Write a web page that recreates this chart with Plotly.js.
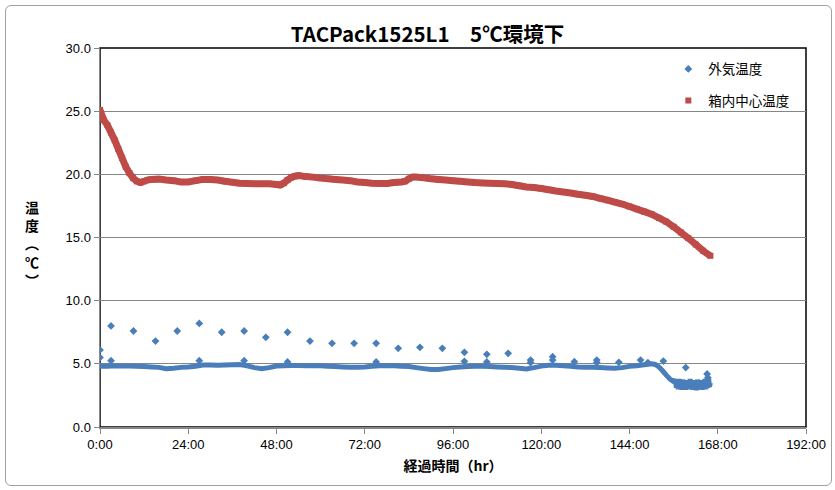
<!DOCTYPE html>
<html>
<head>
<meta charset="utf-8">
<script src="https://cdn.plot.ly/plotly-3.0.1.min.js"></script>
<style>
  html, body { margin: 0; padding: 0; background: #fff; }
  #wrap { position: relative; width: 835px; height: 490px; }
  #chart { width: 835px; height: 490px; }
  #frame { position: absolute; left: 5px; top: 5px; width: 825px; height: 479px;
           border: 1.5px solid #a0a0a0; border-radius: 6px; pointer-events: none; }
</style>
</head>
<body>
<div id="wrap"><div id="chart"></div><div id="frame"></div></div>
<script>
// ---- data (hours elapsed, temperature °C) ----
const xTickVals = [0, 24, 48, 72, 96, 120, 144, 168, 192];
const xTickText = ['0:00', '24:00', '48:00', '72:00', '96:00', '120:00', '144:00', '168:00', '192:00'];

// 箱内中心温度 (inner centre temperature)
const innerHours = [0,1,2,3,4,5,6,7,8,9,10,11,12,13,14,16,18,20,22,24,26,28,30,32,34,36,38,40,42,44,46,48,49,50,51,52,53,54,56,58,60,62,64,66,68,70,72,74,76,78,80,82,83,84,85,86,88,90,92,94,96,98,100,102,104,106,108,110,112,114,116,118,120,122,124,126,128,130,132,134,136,138,140,142,144,146,148,150,152,154,156,158,160,162,164,166];
const innerTemp = [25.1,24.3,23.9,23.3,22.7,22.0,21.3,20.6,20.1,19.7,19.45,19.35,19.45,19.55,19.6,19.62,19.55,19.5,19.4,19.4,19.5,19.6,19.6,19.55,19.45,19.38,19.3,19.28,19.25,19.25,19.25,19.2,19.15,19.3,19.55,19.75,19.85,19.9,19.82,19.78,19.7,19.65,19.6,19.55,19.5,19.4,19.35,19.3,19.28,19.28,19.35,19.4,19.45,19.65,19.78,19.78,19.72,19.65,19.6,19.55,19.5,19.45,19.4,19.35,19.32,19.3,19.28,19.25,19.2,19.1,19.0,18.95,18.88,18.78,18.68,18.6,18.52,18.42,18.35,18.25,18.1,17.95,17.8,17.65,17.45,17.25,17.05,16.85,16.55,16.25,15.85,15.4,14.95,14.45,13.95,13.55];

// 外気温度 (ambient) – main band
const ambientHours = [0,2,4,6,8,10,12,14,16,18,20,22,24,26,28,30,32,34,36,38,40,42,44,46,48,50,52,54,56,58,60,62,64,66,68,70,72,74,76,78,80,82,84,86,88,90,92,94,96,98,100,102,104,106,108,110,112,114,116,118,120,122,124,126,128,130,132,134,136,138,140,142,144,146,148,150,151,152,153,154,155,156,
  156.5,156.75,157,157.25,157.5,157.75,158,158.25,158.5,158.75,159,159.25,159.5,159.75,160,160.25,160.5,160.75,161,161.25,161.5,161.75,162,162.25,162.5,162.75,163,163.25,163.5,163.75,164,164.25,164.5,164.75,165,165.25,165.5,165.75,166];
const ambientTemp = [4.8,4.8,4.85,4.82,4.82,4.8,4.78,4.75,4.72,4.62,4.65,4.72,4.75,4.8,4.9,4.9,4.88,4.9,4.92,4.95,4.85,4.7,4.62,4.7,4.82,4.85,4.87,4.87,4.85,4.85,4.85,4.8,4.78,4.75,4.72,4.72,4.75,4.8,4.85,4.87,4.85,4.8,4.78,4.7,4.62,4.55,4.55,4.62,4.7,4.75,4.78,4.8,4.8,4.78,4.75,4.72,4.7,4.65,4.6,4.7,4.82,4.88,4.88,4.85,4.8,4.75,4.72,4.72,4.7,4.68,4.65,4.7,4.8,4.85,4.92,5.0,4.95,4.75,4.45,4.1,3.8,3.6,
  3.75,3.1,3.55,3.0,3.8,3.1,3.6,2.95,3.75,3.05,3.55,2.95,3.7,3.1,3.6,3.0,3.8,3.0,3.5,2.95,3.7,3.05,3.6,2.9,3.75,3.1,3.55,3.0,3.7,2.95,3.6,3.05,3.8,3.0,3.6,3.1,3.9,3.2,3.5];

// 外気温度 – scattered readings above the band
const spikeHours = [0,0,3.0,3.0,9.1,15.1,21.0,27.0,27.0,33.1,39.2,39.2,45.1,51.0,51.0,57.1,63.1,69.1,75.1,75.1,81.1,87.0,93.1,99.1,99.1,105.2,105.2,111.0,117.1,117.1,123.1,123.1,129.0,135.1,135.1,141.1,147.0,149.0,153.2,159.3,165.1,165.3];
const spikeTemp = [6.1,5.5,8.0,5.25,7.6,6.8,7.6,8.2,5.25,7.5,7.6,5.25,7.1,7.5,5.15,6.8,6.62,6.62,6.62,5.15,6.23,6.31,6.23,5.91,5.2,5.75,5.15,5.83,5.3,5.1,5.57,5.3,5.17,5.3,5.1,5.12,5.3,5.1,5.22,4.7,4.2,3.9];

const blue = '#4a7ebb';
const red = '#be4b48';

const traces = [
  { x: spikeHours, y: spikeTemp, type: 'scatter', mode: 'markers', name: '外気温度',
    legendgroup: 'a', marker: { symbol: 'diamond', size: 6, color: blue } },
  { x: ambientHours, y: ambientTemp, type: 'scatter', mode: 'lines', showlegend: false,
    legendgroup: 'a', line: { color: blue, width: 5, simplify: false } },
  { x: innerHours, y: innerTemp, type: 'scatter', mode: 'lines', showlegend: false,
    legendgroup: 'b', line: { color: red, width: 7, simplify: false } },
  { x: innerHours, y: innerTemp, type: 'scatter', mode: 'markers', name: '箱内中心温度',
    legendgroup: 'b', marker: { symbol: 'square', size: 6, color: red } }
];

const font = "'Noto Sans CJK JP', 'Noto Sans', sans-serif";

const layout = {
  width: 835, height: 490,
  margin: { l: 100, r: 29, t: 48, b: 63 },
  paper_bgcolor: 'rgba(0,0,0,0)', plot_bgcolor: '#fff',
  font: { family: font, size: 13, color: '#000' },
  title: { text: '<b>TACPack1525L1　5℃環境下</b>', x: 0.512, xanchor: 'center', y: 0.928, yanchor: 'middle',
           font: { family: font, size: 20.5, color: '#000' } },
  showlegend: true,
  legend: { x: 0.805, y: 0.985, xanchor: 'left', yanchor: 'top', bgcolor: 'rgba(0,0,0,0)',
            traceorder: 'grouped', tracegroupgap: 11, font: { family: font, size: 13.5 },
            itemwidth: 30 },
  xaxis: {
    range: [0, 192], tickvals: xTickVals, ticktext: xTickText,
    showgrid: false, zeroline: false, showline: true, linecolor: '#868686', linewidth: 1.5,
    ticks: 'outside', ticklen: 5, tickcolor: '#868686',
    tickfont: { family: "'Liberation Sans', sans-serif", size: 13 },
    title: { text: '<b>経過時間（hr）</b>', font: { family: font, size: 14 }, standoff: 10 }
  },
  yaxis: {
    range: [0, 30], dtick: 5, tick0: 0, tickformat: '.1f',
    showgrid: true, gridcolor: '#868686', gridwidth: 1, zeroline: false,
    showline: true, linecolor: '#868686', linewidth: 1.5,
    ticks: 'outside', ticklen: 5, tickcolor: '#868686',
    tickfont: { family: "'Liberation Sans', sans-serif", size: 13 }
  },
  shapes: [
    { type: 'rect', xref: 'paper', yref: 'paper', x0: 0, x1: 1, y0: 0, y1: 1,
      line: { color: '#000', width: 1.5 }, layer: 'below' }
  ],
  annotations: [
    { text: '<b>温<br>度<br>︵<br>℃<br>︶</b>', xref: 'paper', yref: 'paper', x: -0.097, y: 0.485,
      xanchor: 'center', yanchor: 'middle', showarrow: false, align: 'center',
      font: { family: font, size: 14, color: '#000' } }
  ]
};

Plotly.newPlot('chart', traces, layout, { displayModeBar: false, staticPlot: true });
</script>
</body>
</html>
